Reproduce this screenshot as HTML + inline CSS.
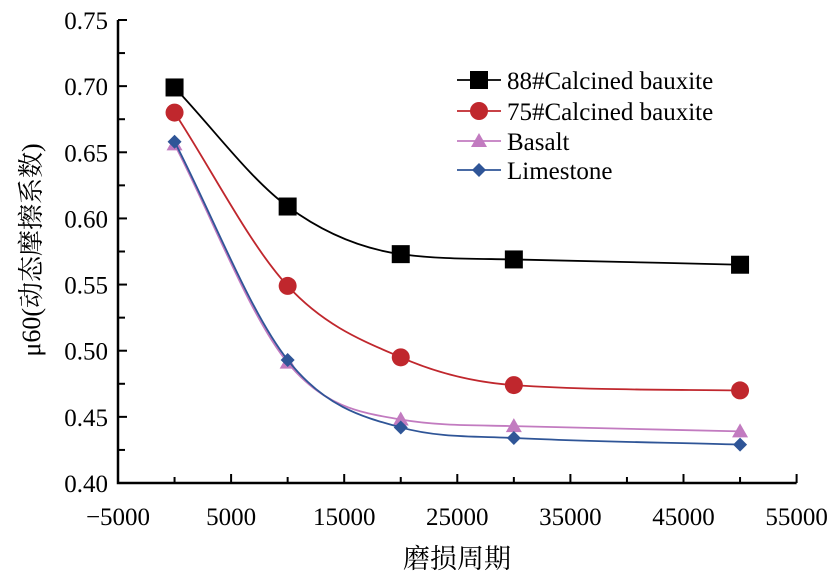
<!DOCTYPE html>
<html><head><meta charset="utf-8"><style>
body{margin:0;background:#fff}
svg text{font-family:"Times New Roman","Liberation Serif",Times,"Noto Serif CJK SC",serif;fill:#000}
</style></head><body>
<svg id="c" width="838" height="581"></svg>
<script>
const xValues=[0,10000,20000,30000,50000];
const s88=[0.699,0.609,0.573,0.569,0.565];
const s75=[0.680,0.549,0.495,0.474,0.470];
const sBasalt=[0.656,0.491,0.448,0.443,0.439];
const sLime=[0.658,0.493,0.442,0.434,0.429];
const seriesNames=["88#Calcined bauxite","75#Calcined bauxite","Basalt","Limestone"];
const xTicks=[-5000,5000,15000,25000,35000,45000,55000];
const yTicks=[0.40,0.45,0.50,0.55,0.60,0.65,0.70,0.75];

const NS="http://www.w3.org/2000/svg";
const svg=document.getElementById('c');
const X0=118,X1=796.6,Y0=483,Y1=20;
const sx=v=>X0+(v+5000)/60000*(X1-X0);
const sy=v=>Y0-(v-0.40)/0.35*(Y0-Y1);
function el(t,a,p){const e=document.createElementNS(NS,t);for(const k in a)e.setAttribute(k,a[k]);(p||svg).appendChild(e);return e;}

const ax=el('path',{d:`M${X0},${Y1}V${Y0}H${X1}`,fill:'none',stroke:'#000','stroke-width':2.5});


for(let v=-5000;v<=55000;v+=5000){
  const major=xTicks.includes(v);
  const t=el('line',{x1:sx(v),x2:sx(v),y1:Y0,y2:Y0-(major?9:6),stroke:'#000','stroke-width':2});
  
  
}
xTicks.forEach(v=>{
  const t=el('text',{x:sx(v),y:Y0+42,'text-anchor':'middle','font-size':25});
  t.textContent=v<0?'\u2212'+Math.abs(v):String(v);
  
  
});
for(let i=0;i<=14;i++){
  const v=0.40+i*0.025;
  const t=el('line',{x1:X0,x2:X0+(i%2==0?9:7),y1:sy(v),y2:sy(v),stroke:'#000','stroke-width':2});
  
  
}
yTicks.forEach(v=>{
  const t=el('text',{x:X0-10,y:sy(v)+9,'text-anchor':'end','font-size':25});
  t.textContent=v.toFixed(2);
  
  
});
const xt=el('text',{x:457,y:568,'text-anchor':'middle','font-size':27});
xt.textContent='磨损周期';


const yt=el('text',{x:0,y:0,'text-anchor':'middle','font-size':26,transform:'translate(40,250) rotate(-90)'});
yt.textContent='μ60(动态摩擦系数)';



function mono(xs,ys){
  const n=xs.length,d=[],m=[];
  for(let i=0;i<n-1;i++)d.push((ys[i+1]-ys[i])/(xs[i+1]-xs[i]));
  m[0]=d[0];m[n-1]=d[n-2];
  for(let i=1;i<n-1;i++){m[i]=d[i-1]*d[i]<=0?0:(d[i-1]+d[i])/2;}
  for(let i=0;i<n-1;i++){if(d[i]==0){m[i]=m[i+1]=0;continue;}const a=m[i]/d[i],b=m[i+1]/d[i],h=a*a+b*b;if(h>9){const t=3/Math.sqrt(h);m[i]=t*a*d[i];m[i+1]=t*b*d[i];}}
  let p=`M${xs[0]},${ys[0]}`;
  for(let i=0;i<n-1;i++){const h=(xs[i+1]-xs[i])/3;p+=`C${xs[i]+h},${ys[i]+m[i]*h} ${xs[i+1]-h},${ys[i+1]-m[i+1]*h} ${xs[i+1]},${ys[i+1]}`;}
  return p;
}
function marker(kind,x,y,col,g){
  if(kind=='sq')return el('rect',{x:x-9,y:y-9,width:18,height:18,fill:col},g);
  if(kind=='ci')return el('circle',{cx:x,cy:y,r:9,fill:col},g);
  if(kind=='tr')return el('path',{d:`M${x},${y-8}L${x+8},${y+6}L${x-8},${y+6}Z`,fill:col},g);
  return el('path',{d:`M${x},${y-7}L${x+7},${y}L${x},${y+7}L${x-7},${y}Z`,fill:col},g);
}
const series=[[s88,'#000','sq'],[s75,'#c0272d','ci'],[sBasalt,'#c27bc0','tr'],[sLime,'#2f5597','di']];
series.forEach(([vals,col,k],si)=>{
  const g=el('g',{});
  
  
  const xs=xValues.map(sx),ys=vals.map(sy);
  const l=el('path',{d:mono(xs,ys),fill:'none',stroke:col,'stroke-width':1.8},g);
  
  
  xs.forEach((x,i)=>{const m=marker(k,x,ys[i],col,g);
    
    });
  const ly=[80,111,141,170][si];
  const lg=el('g',{});
  
  
  el('line',{x1:457,x2:501,y1:ly,y2:ly,stroke:col,'stroke-width':1.8},lg);
  marker(k,479,ly,col,lg);
  const t=el('text',{x:507,y:ly+9,'font-size':25},lg);
  t.textContent=seriesNames[si];
});
</script>
</body></html>
